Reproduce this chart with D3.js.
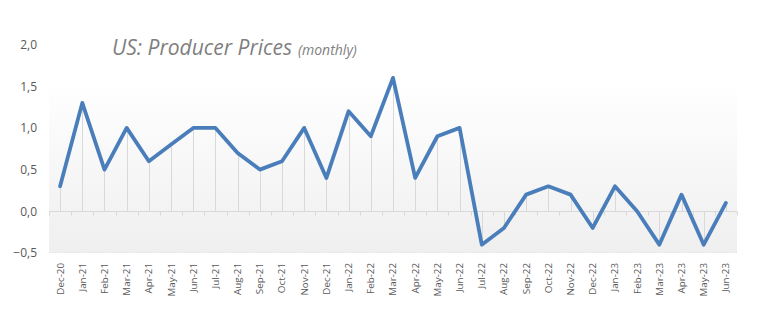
<!DOCTYPE html>
<html><head><meta charset="utf-8">
<script src="https://cdn.jsdelivr.net/npm/d3@7"></script>
<style>body{margin:0;background:#fff;}svg{display:block;}</style>
</head><body>
<svg id="c" width="761" height="322"></svg>
<script>
const categories = ["Dec-20","Jan-21","Feb-21","Mar-21","Apr-21","May-21","Jun-21","Jul-21","Aug-21","Sep-21","Oct-21","Nov-21","Dec-21","Jan-22","Feb-22","Mar-22","Apr-22","May-22","Jun-22","Jul-22","Aug-22","Sep-22","Oct-22","Nov-22","Dec-22","Jan-23","Feb-23","Mar-23","Apr-23","May-23","Jun-23"];
const values = [0.3,1.3,0.5,1.0,0.6,0.8,1.0,1.0,0.7,0.5,0.6,1.0,0.4,1.2,0.9,1.6,0.4,0.9,1.0,-0.4,-0.2,0.2,0.3,0.2,-0.2,0.3,0.0,-0.4,0.2,-0.4,0.1];
const yTicks = [-0.5,0,0.5,1.0,1.5,2.0];
const titleMain = "US: Producer Prices";
const titleSub = "(monthly)";

const svg = d3.select("#c");
const L = 49, R = 737, T = 45, B = 253;
const x = d3.scaleBand().domain(categories).range([L, R]).paddingInner(0).paddingOuter(0);
const y = d3.scaleLinear().domain([-0.5, 2.0]).range([B, T - 0.5]);
const fmt = d => d3.format(".1f")(d).replace(".", ",");

const defs = svg.append("defs");
const g = defs.append("linearGradient").attr("id","bg").attr("x1",0).attr("y1",0).attr("x2",0).attr("y2",1);
g.append("stop").attr("offset","0%").attr("stop-color","#ffffff");
g.append("stop").attr("offset","100%").attr("stop-color","#efefef");

const plotTop = 81;
svg.append("rect").attr("x", L).attr("y", plotTop).attr("width", R - L).attr("height", B - plotTop).attr("fill","url(#bg)");

// bottom dotted line
svg.append("line").attr("x1", L).attr("x2", R).attr("y1", B - 0.5).attr("y2", B - 0.5)
  .attr("stroke","#e2e2e2").attr("stroke-width",1).attr("stroke-dasharray","1,2");

// drop lines
svg.append("g").selectAll("line").data(values).join("line")
  .attr("x1",(d,i)=>Math.round(x(categories[i]) + x.bandwidth()/2)+0.5)
  .attr("x2",(d,i)=>Math.round(x(categories[i]) + x.bandwidth()/2)+0.5)
  .attr("y1", d=>y(d)).attr("y2", y(0))
  .attr("stroke","#d9d9d9").attr("stroke-width",1);

// zero axis
const y0 = Math.round(y(0)) + 0.5;
svg.append("line").attr("x1", L).attr("x2", R).attr("y1", y0).attr("y2", y0).attr("stroke","#d9d9d9").attr("stroke-width",1);
// ticks at category boundaries
const bounds = categories.map(c => x(c)).concat([R]);
svg.append("g").selectAll("line").data(bounds).join("line")
  .attr("x1", d=>Math.round(d)+0.5).attr("x2", d=>Math.round(d)+0.5)
  .attr("y1", y0).attr("y2", y0 + 4)
  .attr("stroke","#d9d9d9").attr("stroke-width",1);

// y axis labels
const yAxis = d3.axisLeft(y).tickValues(yTicks).tickFormat(fmt).tickSize(0).tickPadding(0);
const ya = svg.append("g").attr("transform",`translate(37,0)`).call(yAxis);
ya.select(".domain").remove();
ya.selectAll("text").attr("fill","#595959").style("font-family","'Open Sans', sans-serif").style("font-size","12px");

// x labels
const xAxis = d3.axisBottom(x).tickSize(0).tickPadding(0);
const xa = svg.append("g").attr("transform",`translate(0,${B})`).call(xAxis);
xa.select(".domain").remove();
xa.selectAll("text")
  .attr("fill","#595959").style("font-family","'Open Sans', sans-serif").style("font-size","9.8px")
  .attr("text-anchor","end").attr("dy","0.35em").attr("dx",0).attr("y",0)
  .attr("transform","translate(0,10) rotate(-90)");

// line
const line = d3.line().x((d,i)=>x(categories[i]) + x.bandwidth()/2).y(d=>y(d));
svg.append("path").datum(values).attr("d", line).attr("fill","none")
  .attr("stroke","#4a7ebb").attr("stroke-width",3.8).attr("stroke-linejoin","round").attr("stroke-linecap","round");

// title
const t = svg.append("text").attr("x",112).attr("y",55).attr("fill","#7f7f7f")
  .style("font-family","'Open Sans', sans-serif").style("font-style","italic");
t.append("tspan").style("font-size","21px").text(titleMain);
t.append("tspan").style("font-size","14px").attr("dx",6).text(titleSub);
</script>
</body></html>
